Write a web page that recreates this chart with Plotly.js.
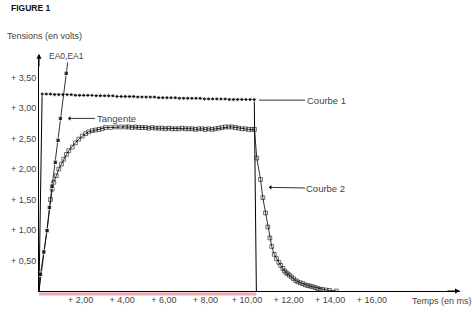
<!DOCTYPE html>
<html>
<head>
<meta charset="utf-8">
<script src="https://cdn.plot.ly/plotly-3.0.1.min.js"></script>
<style>html,body{margin:0;padding:0;background:#fff;}#chart{width:472px;height:313px;}</style>
</head>
<body>
<div id="chart"></div>
<script>
// ---- Data ----
// Courbe 1 (EA0): input voltage step
const courbe1T = [0, 0.15,0.35,0.55,0.75,0.95,1.15,1.35,1.55,1.75,1.95,2.15,2.35,2.55,2.75,2.95,3.15,3.35,3.55,3.75,3.95,4.15,4.35,4.55,4.75,4.95,5.15,5.35,5.55,5.75,5.95,6.15,6.35,6.55,6.75,6.95,7.15,7.35,7.55,7.75,7.95,8.15,8.35,8.55,8.75,8.95,9.15,9.35,9.55,9.75,9.95,10.15,10.35, 10.45];
const courbe1V = [0, 3.23,3.23,3.23,3.22,3.22,3.22,3.22,3.22,3.21,3.21,3.21,3.21,3.21,3.20,3.20,3.20,3.20,3.20,3.19,3.19,3.19,3.19,3.19,3.18,3.18,3.18,3.18,3.18,3.17,3.17,3.17,3.17,3.17,3.16,3.16,3.16,3.16,3.16,3.16,3.15,3.15,3.15,3.15,3.15,3.15,3.14,3.14,3.14,3.14,3.14,3.14,3.14, 0];

// Courbe 2 (EA1): capacitor voltage (rise, plateau, decay)
const courbe2T = [0, 0.55,0.635,0.71,0.83,0.95,1.08,1.19,1.32,1.43,1.60,1.75,1.91,2.08,2.24,2.39,2.56,2.72,2.88,3.04,3.20,3.44,3.68,3.92,4.16,
  4.32,4.48,4.64,4.80,4.96,5.12,5.28,5.44,5.60,5.76,5.92,6.08,6.24,6.40,6.56,6.72,6.88,7.04,7.20,7.36,7.52,7.68,7.84,8.00,8.16,8.32,8.48,8.64,8.80,8.96,9.12,9.28,9.44,9.60,9.76,9.92,10.08,10.24,10.36,
  10.47,10.65,10.76,10.89,11.00,11.10,11.19,11.31,11.42,11.53,11.62,11.72,11.80,11.88,11.96,12.04,12.14,12.24,12.34,12.44,12.56,12.68,12.80,12.92,13.04,13.16,13.28,13.40,13.52,13.64,13.80,13.97,14.29];
const courbe2V = [0, 1.50,1.67,1.78,1.89,2.00,2.08,2.16,2.24,2.30,2.36,2.43,2.49,2.54,2.58,2.61,2.63,2.64,2.65,2.66,2.68,2.68,2.69,2.69,2.69,
  2.69,2.68,2.69,2.68,2.68,2.68,2.67,2.68,2.67,2.67,2.67,2.66,2.67,2.66,2.66,2.66,2.67,2.66,2.66,2.66,2.65,2.66,2.66,2.65,2.66,2.65,2.66,2.67,2.68,2.69,2.69,2.69,2.68,2.67,2.66,2.66,2.65,2.65,2.65,
  2.18,1.83,1.53,1.28,1.05,0.87,0.73,0.60,0.53,0.47,0.42,0.37,0.33,0.30,0.28,0.26,0.23,0.20,0.17,0.15,0.135,0.12,0.10,0.09,0.08,0.07,0.055,0.04,0.03,0.025,0.015,0.01,0.0];

// Tangente at the origin
const tangenteT = [0, 0.07,0.23,0.39,0.50,0.63,0.79,0.92,1.03,1.31, 1.38];
const tangenteV = [0, 0.275,0.64,0.99,1.37,1.72,2.11,2.47,2.83,3.57, 3.75];

// Tick labels
const xTickVals = [2,4,6,8,10,12,14,16];
const xTickText = ['+ 2,00','+ 4,00','+ 6,00','+ 8,00','+ 10,00','+ 12,00','+ 14,00','+ 16,00'];
const yTickVals = [0.5,1,1.5,2,2.5,3,3.5];
const yTickText = ['+ 0,50','+ 1,00','+ 1,50','+ 2,00','+ 2,50','+ 3,00','+ 3,50'];

const xMax = 20.24, yMax = 3.87;
const FONT = 'Liberation Sans, Arial, sans-serif';
const TXT = '#444';

function endHidden(arr, size){ return arr.map((_, i) => (i === 0 || i === arr.length - 1) ? 0 : size); }

const traces = [
  { x: courbe1T, y: courbe1V, mode: 'lines+markers', name: 'Courbe 1',
    line: {color: '#000', width: 1},
    marker: {symbol: 'circle', size: endHidden(courbe1T, 4), color: '#000'} },
  { x: courbe2T, y: courbe2V, mode: 'lines+markers', name: 'Courbe 2',
    line: {color: '#000', width: 0.8},
    marker: {symbol: 'square-open', size: courbe2T.map((t,i)=> i===0 ? 0 : 3.8), color: '#000', line: {width: 0.8, color:'#000'}} },
  { x: tangenteT, y: tangenteV, mode: 'lines+markers', name: 'Tangente',
    line: {color: '#000', width: 0.8},
    marker: {symbol: 'square', size: endHidden(tangenteT, 4.5), color: '#000'} }
];

const layout = {
  width: 472, height: 313,
  margin: {l: 39, r: 12, t: 55, b: 22},
  paper_bgcolor: '#fff', plot_bgcolor: '#fff',
  showlegend: false,
  font: {family: FONT, size: 9, color: TXT},
  title: {text: '<b>FIGURE 1</b>', x: 11/472, xref: 'container', xanchor: 'left',
          y: 1 - 8/313, yref: 'container', yanchor: 'middle',
          font: {family: FONT, size: 8.5, color: '#111'}},
  xaxis: {range: [0, xMax], showgrid: false, zeroline: false, showline: true, linecolor: '#000', linewidth: 1,
          ticks: '', tickmode: 'array', tickvals: xTickVals, ticktext: xTickText,
          tickfont: {family: FONT, size: 9, color: TXT}},
  yaxis: {range: [0, yMax], showgrid: false, zeroline: false, showline: true, linecolor: '#000', linewidth: 1,
          ticks: '', tickmode: 'array', tickvals: yTickVals, ticktext: yTickText,
          tickfont: {family: FONT, size: 9, color: TXT}},
  shapes: [
    {type: 'line', xref: 'paper', yref: 'paper', x0: 0, x1: courbe1T[courbe1T.length-1] / xMax,
     y0: -3/236, y1: -3/236, line: {color: 'rgba(225,95,110,0.55)', width: 3}, layer: 'below'}
  ],
  annotations: [
    // axis arrows
    {xref: 'paper', yref: 'paper', x: 0, y: 1.005, ax: 0, ay: 14, text: '', showarrow: true,
     arrowhead: 2, arrowsize: 1, arrowwidth: 1, arrowcolor: '#000'},
    {xref: 'paper', yref: 'paper', x: 1, y: 0, ax: -14, ay: 0, text: '', showarrow: true,
     arrowhead: 2, arrowsize: 1, arrowwidth: 1, arrowcolor: '#000'},
    // axis titles
    {xref: 'paper', yref: 'paper', x: -34/421, y: (291-36)/236, xanchor: 'left', yanchor: 'middle',
     text: 'Tensions (en volts)', showarrow: false, font: {family: FONT, size: 9, color: TXT}},
    {xref: 'paper', yref: 'paper', x: (410-39)/421, y: (291-301)/236, xanchor: 'left', yanchor: 'middle',
     text: 'Temps (en ms)', showarrow: false, font: {family: FONT, size: 9, color: TXT}},
    {xref: 'paper', yref: 'paper', x: (66-39)/421, y: (291-56)/236, xanchor: 'center', yanchor: 'middle',
     text: 'EA0,EA1', showarrow: false, font: {family: FONT, size: 8.5, color: TXT}},
    // curve labels
    {x: 1.30, y: 2.83, ax: 50, ay: 0, text: 'Tangente', showarrow: true, arrowhead: 1, arrowsize: 1,
     arrowwidth: 0.8, arrowcolor: '#000', standoff: 2, font: {family: FONT, size: 9.5, color: TXT}},
    {x: 10.53, y: 3.13, ax: 68, ay: 0, text: 'Courbe 1', showarrow: true, arrowhead: 0,
     arrowwidth: 0.8, arrowcolor: '#000', standoff: 1, font: {family: FONT, size: 9.5, color: TXT}},
    {x: 10.96, y: 1.70, ax: 59, ay: 1, text: 'Courbe 2', showarrow: true, arrowhead: 1, arrowsize: 1,
     arrowwidth: 0.8, arrowcolor: '#000', standoff: 2, font: {family: FONT, size: 9.5, color: TXT}}
  ]
};

Plotly.newPlot('chart', traces, layout, {staticPlot: true, displayModeBar: false});
</script>
</body>
</html>
